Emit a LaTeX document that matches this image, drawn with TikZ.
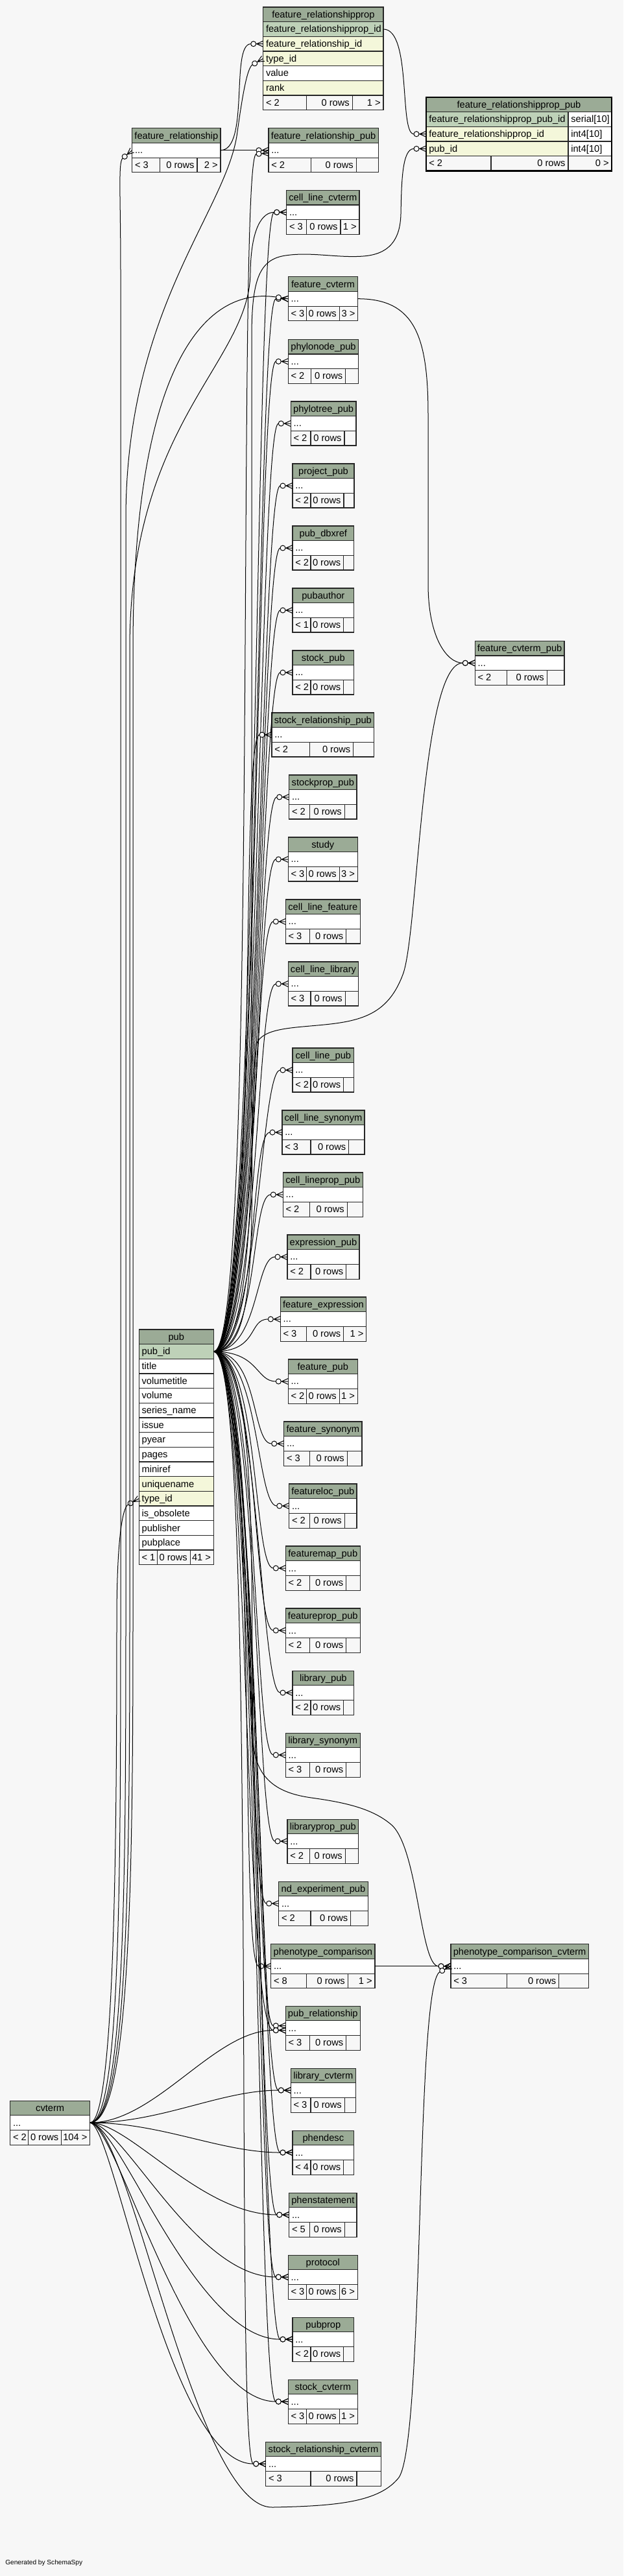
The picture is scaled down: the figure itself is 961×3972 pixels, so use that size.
\documentclass[tikz,border=0pt]{standalone}
\usepackage{fontspec}
\setmainfont{Liberation Sans}
\usetikzlibrary{calc}
\pgfdeclarearrow{
  name = Crow,
  setup code = {
    \pgfarrowssettipend{0pt}
    \pgfarrowssetbackend{-14.25pt}
    \pgfarrowssetlineend{-14.25pt}
    \pgfarrowshullpoint{0pt}{3.4pt}
    \pgfarrowshullpoint{0pt}{-3.4pt}
    \pgfarrowshullpoint{-14.25pt}{3pt}
    \pgfarrowshullpoint{-14.25pt}{-3pt}
  },
  drawing code = {
    \pgfsetdash{}{0pt}
    \pgfpathmoveto{\pgfpoint{-8.25pt}{0pt}}
    \pgfpathlineto{\pgfpoint{0pt}{0pt}}
    \pgfpathmoveto{\pgfpoint{0pt}{3.4pt}}
    \pgfpathlineto{\pgfpoint{-7.5pt}{0pt}}
    \pgfpathlineto{\pgfpoint{0pt}{-3.4pt}}
    \pgfusepathqstroke
    \pgfpathcircle{\pgfpoint{-11.25pt}{0pt}}{3pt}
    \pgfsetfillcolor{white}
    \pgfusepathqfillstroke
  }
}
\definecolor{hdrc}{HTML}{9BAB96}
\definecolor{pkc}{HTML}{BED1B8}
\definecolor{fkc}{HTML}{F4F7DA}
\definecolor{bgc}{HTML}{F7F7F7}
\definecolor{footc}{HTML}{F7F7F7}
\newcommand\tRH{22.67}
\newcommand\tBL{16.3}
\tikzset{
  tblline/.style={draw=black!85, line width=0.8pt},
  hdrcell/.style={tblline, fill=hdrc},
  pkcell/.style={tblline, fill=pkc},
  fkcell/.style={tblline, fill=fkc},
  plaincell/.style={tblline, fill=white},
  footcell/.style={tblline, fill=footc},
  txt/.style={inner sep=0pt, outer sep=0pt, font=\fontsize{11}{13}\selectfont, text=black},
  fkline/.style={draw=black, line width=0.75pt, -{Crow}},
}
% header: name L R T title
\newcommand\thead[5]{%
  \path[hdrcell] (#2,#4) rectangle (#3,#4+\tRH);
  \node[txt,anchor=base] (#1-t) at ({(#2+#3)/2},#4+\tBL) {#5};
}
% row: name style L R top text
\newcommand\trow[6]{%
  \path[#2] (#3,#5) rectangle (#4,#5+\tRH);
  \node[txt,anchor=base west] (#1) at (#3+4.3,#5+\tBL) {#6};
}
% footer: name L R top d1 d2 left right
\newcommand\tfoot[8]{%
  \path[footcell] (#2,#4) rectangle (#3,#4+\tRH);
  \draw[tblline] (#5,#4) -- (#5,#4+\tRH) (#6,#4) -- (#6,#4+\tRH);
  \node[txt,anchor=base west] (#1-fa) at (#2+4.3,#4+\tBL) {#7};
  \node[txt,anchor=base east] (#1-fb) at (#6-4.5,#4+\tBL) {0 rows};
  \node[txt,anchor=base east] (#1-fc) at (#3-4.3,#4+\tBL) {#8};
}
% compact table: name L R T title d1 d2 left right
\newcommand\tbl[9]{%
  \thead{#1}{#2}{#3}{#4}{#5}
  \trow{#1-c}{plaincell}{#2}{#3}{#4+\tRH}{...}
  \tfoot{#1}{#2}{#3}{#4+2*\tRH}{#6}{#7}{#8}{#9}
  \coordinate (#1-w) at (#2,#4+1.5*\tRH);
  \coordinate (#1-e) at (#3,#4+1.5*\tRH);
}
\begin{document}
\begin{tikzpicture}[x=0.75pt,y=-0.75pt]
\useasboundingbox (0,0) rectangle (961,3972);
\fill[bgc] (0,0) rectangle (961,3972);

% ---------- feature_relationshipprop ----------
\thead{frp}{405.7}{591}{11}{feature\_relationshipprop}
\trow{frp-r1}{pkcell}{405.7}{591}{33.67}{feature\_relationshipprop\_id}
\trow{frp-r2}{fkcell}{405.7}{591}{56.33}{feature\_relationship\_id}
\trow{frp-r3}{fkcell}{405.7}{591}{79}{type\_id}
\trow{frp-r4}{plaincell}{405.7}{591}{101.67}{value}
\trow{frp-r5}{fkcell}{405.7}{591}{124.33}{rank}
\tfoot{frp}{405.7}{591}{147}{472.7}{543.3}{< 2}{1 >}
\coordinate (frp-pk-e) at (591,45);
\coordinate (frp-fr-w) at (405.7,67.67);
\coordinate (frp-type-w) at (405.7,90.33);

% ---------- feature_relationshipprop_pub (focus) ----------
\thead{frpp}{657}{943}{150}{feature\_relationshipprop\_pub}
\trow{frpp-r1}{pkcell}{657}{876}{172.67}{feature\_relationshipprop\_pub\_id}
\trow{frpp-r1b}{plaincell}{876}{943}{172.67}{serial[10]}
\trow{frpp-r2}{fkcell}{657}{876}{195.33}{feature\_relationshipprop\_id}
\trow{frpp-r2b}{plaincell}{876}{943}{195.33}{int4[10]}
\trow{frpp-r3}{fkcell}{657}{876}{218}{pub\_id}
\trow{frpp-r3b}{plaincell}{876}{943}{218}{int4[10]}
\tfoot{frpp}{657}{943}{240.67}{757}{876}{< 2}{0 >}
\draw[black, line width=2.2pt] (657,150) rectangle (943,263.33);
\coordinate (frpp-frp-w) at (657,206.67);
\coordinate (frpp-pub-w) at (657,229.33);

% ---------- pub ----------
\thead{pub}{214.3}{329.3}{2050}{pub}
\trow{pub-r1}{pkcell}{214.3}{329.3}{2072.67}{pub\_id}
\trow{pub-r2}{plaincell}{214.3}{329.3}{2095.33}{title}
\trow{pub-r3}{plaincell}{214.3}{329.3}{2118}{volumetitle}
\trow{pub-r4}{plaincell}{214.3}{329.3}{2140.67}{volume}
\trow{pub-r5}{plaincell}{214.3}{329.3}{2163.33}{series\_name}
\trow{pub-r6}{plaincell}{214.3}{329.3}{2186}{issue}
\trow{pub-r7}{plaincell}{214.3}{329.3}{2208.67}{pyear}
\trow{pub-r8}{plaincell}{214.3}{329.3}{2231.33}{pages}
\trow{pub-r9}{plaincell}{214.3}{329.3}{2254}{miniref}
\trow{pub-r10}{fkcell}{214.3}{329.3}{2276.67}{uniquename}
\trow{pub-r11}{fkcell}{214.3}{329.3}{2299.33}{type\_id}
\trow{pub-r12}{plaincell}{214.3}{329.3}{2322}{is\_obsolete}
\trow{pub-r13}{plaincell}{214.3}{329.3}{2344.67}{publisher}
\trow{pub-r14}{plaincell}{214.3}{329.3}{2367.33}{pubplace}
\tfoot{pub}{214.3}{329.3}{2390}{242.7}{293.3}{< 1}{41 >}
\coordinate (pub-pk-e) at (329.3,2084);
\coordinate (pub-type-w) at (214.3,2310.67);

% ---------- compact tables ----------
\tbl{fr}{203.7}{340}{197.7}{feature\_relationship}{246.7}{304}{< 3}{2 >}
\tbl{frpub}{414}{583.3}{197.7}{feature\_relationship\_pub}{479.3}{549.3}{< 2}{}
\tbl{clcv}{441.7}{554}{293.3}{cell\_line\_cvterm}{472.7}{525}{< 3}{1 >}
\tbl{fcv}{444.3}{551.7}{426.7}{feature\_cvterm}{472.3}{523.3}{< 3}{3 >}
\tbl{phylonode}{444.3}{552.7}{523.3}{phylonode\_pub}{479.3}{532.7}{< 2}{}
\tbl{phylotree}{448.3}{549}{619}{phylotree\_pub}{479}{531}{< 2}{}
\tbl{project}{451}{546}{715}{project\_pub}{479}{530}{< 2}{}
\tbl{pubdbxref}{451}{545.7}{811}{pub\_dbxref}{479}{529.7}{< 2}{}
\tbl{pubauthor}{451}{545.7}{907}{pubauthor}{479}{529.7}{< 1}{}
\tbl{stockpub}{451}{545.7}{1003}{stock\_pub}{479}{529.7}{< 2}{}
\tbl{stockrelpub}{419}{576.7}{1099}{stock\_relationship\_pub}{477.7}{544.7}{< 2}{}
\tbl{stockproppub}{445.7}{550}{1195}{stockprop\_pub}{477.7}{531.3}{< 2}{}
\tbl{study}{444.3}{551.3}{1291}{study}{472.7}{523.3}{< 3}{3 >}
\tbl{clfeature}{440.3}{555.3}{1387}{cell\_line\_feature}{477.7}{533.7}{< 3}{}
\tbl{cllibrary}{444.3}{552.7}{1483}{cell\_line\_library}{479}{532.3}{< 3}{}
\tbl{clpub}{451}{545.7}{1616}{cell\_line\_pub}{479}{529.7}{< 2}{}
\tbl{clsyn}{435}{562}{1712}{cell\_line\_synonym}{479}{537.7}{< 3}{}
\tbl{clproppub}{436.3}{559.3}{1808}{cell\_lineprop\_pub}{477.7}{535.3}{< 2}{}
\tbl{exprpub}{443}{554}{1904}{expression\_pub}{479}{533.7}{< 2}{}
\tbl{fexpr}{432.3}{564.7}{2000}{feature\_expression}{472.3}{529.7}{< 3}{1 >}
\tbl{fpub}{444.3}{551.3}{2096}{feature\_pub}{472.7}{523.3}{< 2}{1 >}
\tbl{fsyn}{437.7}{558}{2192}{feature\_synonym}{477.7}{535.3}{< 3}{}
\tbl{flocpub}{445.7}{550}{2288}{featureloc\_pub}{477.7}{531.3}{< 2}{}
\tbl{fmappub}{440.3}{555.3}{2384}{featuremap\_pub}{477.7}{533.7}{< 2}{}
\tbl{fproppub}{440.3}{555.3}{2480}{featureprop\_pub}{477.7}{533.7}{< 2}{}
\tbl{libpub}{451}{545.7}{2576}{library\_pub}{479}{529.7}{< 2}{}
\tbl{libsyn}{440.3}{555.3}{2672}{library\_synonym}{477.7}{533.7}{< 3}{}
\tbl{libproppub}{443}{552.7}{2805}{libraryprop\_pub}{477.7}{532.3}{< 2}{}
\tbl{ndexp}{429.7}{567.3}{2901}{nd\_experiment\_pub}{479}{540.7}{< 2}{}
\tbl{phencomp}{417.7}{578}{2997.7}{phenotype\_comparison}{472.3}{536.3}{< 8}{1 >}
\tbl{pubrel}{440.3}{555.3}{3093}{pub\_relationship}{477.7}{533.7}{< 3}{}
\tbl{libcv}{448.3}{548.3}{3189}{library\_cvterm}{479}{531.3}{< 3}{}
\tbl{phendesc}{451}{545.7}{3285}{phendesc}{479}{529.7}{< 4}{}
\tbl{phenst}{445.7}{550}{3381}{phenstatement}{477.7}{531.3}{< 5}{}
\tbl{protocol}{444.3}{551.3}{3477}{protocol}{472.7}{523.3}{< 3}{6 >}
\tbl{pubprop}{451}{545.7}{3573}{pubprop}{479}{529.7}{< 2}{}
\tbl{stockcv}{444.3}{551.3}{3669}{stock\_cvterm}{472.7}{523.3}{< 3}{1 >}
\tbl{stockrelcv}{409.7}{587.3}{3765}{stock\_relationship\_cvterm}{479}{550}{< 3}{}
\tbl{fcvpub}{732.3}{870}{988.3}{feature\_cvterm\_pub}{781.7}{843.3}{< 2}{}
\tbl{pcc}{695}{907.3}{2997.7}{phenotype\_comparison\_cvterm}{781.7}{861.7}{< 3}{}
\tbl{cvterm}{15.7}{138.7}{3239}{cvterm}{43.7}{94.7}{< 2}{104 >}
\coordinate (frpub-w2) at (414,236);
\coordinate (pubrel-w1) at (440.3,3123.5);
\coordinate (pubrel-w2) at (440.3,3130.5);

% ---------- relationships ----------
% feature_relationship / feature_relationshipprop / focus table
\draw[fkline] (frp-pk-e) .. controls (635,45) and (615,206.67) .. (frpp-frp-w);
\draw[fkline] (fr-e) .. controls (385,231.7) and (355,67.67) .. (frp-fr-w);
\draw[fkline] (fr-e) -- (frpub-w);

% pub -> children (bundle)
\foreach \tg in {clcv,fcv,phylonode,phylotree,project,pubdbxref,pubauthor,stockpub,stockrelpub,stockproppub,study,clfeature,cllibrary,clpub,clsyn,clproppub,exprpub,fexpr,fpub,fsyn,flocpub,fmappub,fproppub,libpub,libsyn,libproppub,ndexp,phencomp,libcv,phendesc,phenst,protocol,pubprop,stockcv,stockrelcv}{
  \draw[fkline] (pub-pk-e) .. controls +(70,0) and +(-50,0) .. (\tg-w);
}
\draw[fkline] (pub-pk-e) .. controls +(70,0) and +(-50,0) .. (pubrel-w1);
\draw[fkline] (pub-pk-e) .. controls +(55,0) and +(-65,0) .. (pubrel-w2);
\draw[fkline] (pub-pk-e) .. controls +(70,0) and (364,240) .. (frpub-w2);
% pub -> feature_relationshipprop_pub
\draw[fkline] (pub-pk-e) .. controls (399,2084) and (388,1900) .. (388,1600) -- (388,520)
  .. controls (388,430) and (400,400) .. (440,394)
  .. controls (480,388) and (520,398) .. (560,395)
  .. controls (600,392) and (617,370) .. (618,330)
  .. controls (619,280) and (620,229.33) .. (frpp-pub-w);
% pub -> feature_cvterm_pub
\draw[fkline] (pub-pk-e) .. controls (399,2084) and (384,1700) .. (395,1610)
  .. controls (405,1585) and (450,1585) .. (500,1580)
  .. controls (560,1574) and (600,1562) .. (622,1500)
  .. controls (645,1430) and (650,1022.3) .. (fcvpub-w);
% feature_cvterm -> feature_cvterm_pub
\draw[fkline] (fcv-e) .. controls (640,460.7) and (660,520) .. (660,640) -- (660,900)
  .. controls (660,985) and (690,1022.3) .. (fcvpub-w);
% pub -> phenotype_comparison_cvterm
\draw[fkline] (pub-pk-e) .. controls (399,2084) and (386,2450) .. (390,2680)
  .. controls (392,2745) and (430,2765) .. (480,2772)
  .. controls (530,2779) and (575,2788) .. (605,2815)
  .. controls (645,2855) and (648,3031.7) .. (pcc-w);
% phenotype_comparison -> phenotype_comparison_cvterm
\draw[fkline] (phencomp-e) -- (pcc-w);

% cvterm -> children
\draw[fkline] (cvterm-e) .. controls (185,3273) and (186,2900) .. (186,2500) -- (186,420)
  .. controls (186,300) and (182,250) .. (fr-w);
\draw[fkline] (cvterm-e) .. controls (178,3273) and (180,2800) .. (180,2500)
  .. controls (180,2380) and (188,2325) .. (pub-type-w);
\draw[fkline] (cvterm-e) .. controls (192,3273) and (194,2900) .. (194,2500) -- (194,800)
  .. controls (194,480) and (345,330) .. (365,210)
  .. controls (372,160) and (380,105) .. (frp-type-w);
\draw[fkline] (cvterm-e) .. controls (196,3273) and (200,2900) .. (200,2500) -- (200,1000)
  .. controls (200,650) and (385,560) .. (386,420)
  .. controls (387,350) and (405,327.3) .. (clcv-w);
\draw[fkline] (cvterm-e) .. controls (200,3273) and (205,2900) .. (205,2500) -- (205,1000)
  .. controls (205,600) and (300,440) .. (fcv-w);
\draw[fkline] (cvterm-e) .. controls (240,3273) and (330,3130.5) .. (pubrel-w2);
\draw[fkline] (cvterm-e) .. controls (250,3273) and (340,3223) .. (libcv-w);
\draw[fkline] (cvterm-e) .. controls (250,3273) and (340,3319) .. (phendesc-w);
\draw[fkline] (cvterm-e) .. controls (200,3273) and (310,3415) .. (phenst-w);
\draw[fkline] (cvterm-e) .. controls (190,3273) and (300,3511) .. (protocol-w);
\draw[fkline] (cvterm-e) .. controls (185,3273) and (300,3607) .. (pubprop-w);
\draw[fkline] (cvterm-e) .. controls (180,3273) and (290,3703) .. (stockcv-w);
\draw[fkline] (cvterm-e) .. controls (175,3273) and (260,3799) .. (stockrelcv-w);
\draw[fkline] (cvterm-e) .. controls (200,3273) and (300,3868) .. (420,3866)
  .. controls (520,3864) and (585,3858) .. (615,3820)
  .. controls (655,3760) and (640,3060) .. (pcc-w);

\node[inner sep=0pt, anchor=base west, font=\fontsize{7.6}{9}\selectfont] (gen) at (8,3954) {Generated by SchemaSpy};
\end{tikzpicture}
\end{document}
